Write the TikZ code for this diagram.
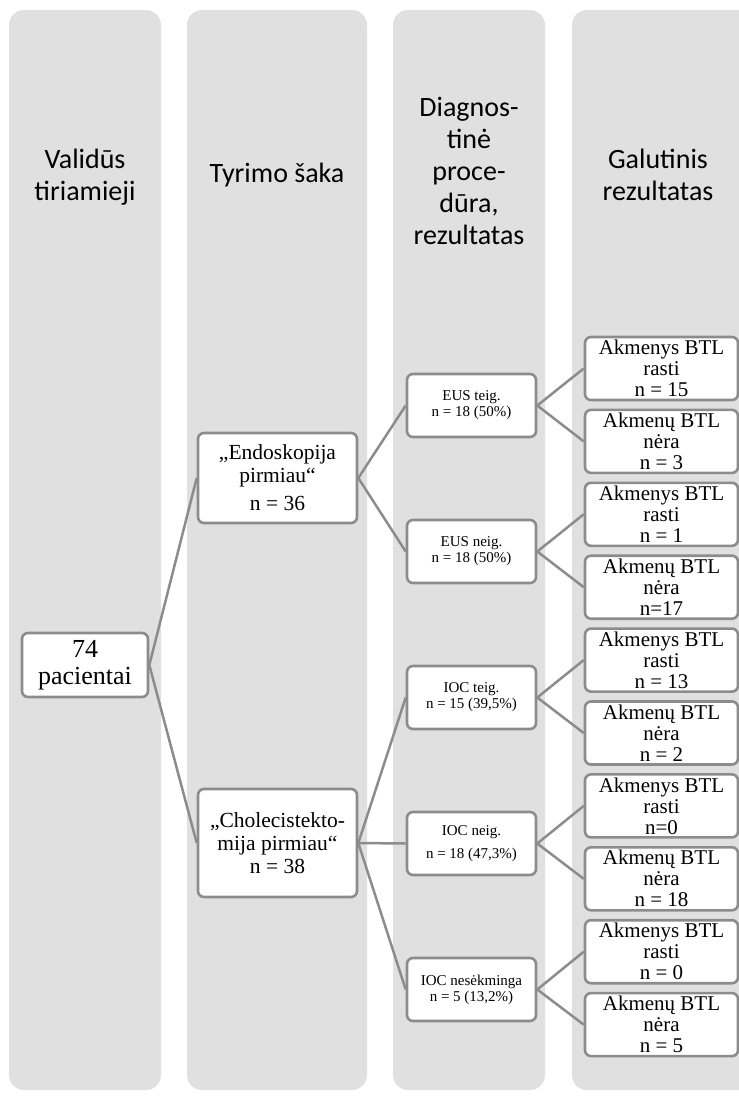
\documentclass[tikz,border=0pt]{standalone}
\usepackage{fontspec}
\setmainfont{Liberation Serif}
\newfontfamily\headfont{Carlito}
\definecolor{colbg}{RGB}{224,224,224}
\definecolor{edgegray}{RGB}{140,140,140}
\tikzset{
  column/.style={fill=colbg, rounded corners=15pt},
  head/.style={font=\headfont\fontsize{28}{32}\selectfont, align=center, text=black, inner sep=0pt},
  box/.style={draw=edgegray, line width=2.6pt, fill=white, rounded corners=6pt,
              align=center, inner sep=0pt},
  rootbox/.style={box, minimum width=126pt, minimum height=64pt,
                  font=\fontsize{26}{27}\selectfont},
  armbox/.style={box, minimum width=159pt, font=\fontsize{21.5}{23}\selectfont},
  procbox/.style={box, minimum width=129pt, minimum height=63pt,
                  font=\fontsize{15}{16}\selectfont},
  leafbox/.style={box, minimum width=153pt, minimum height=63pt,
                  font=\fontsize{21}{21}\selectfont},
  link/.style={draw=edgegray, line width=2.5pt},
}
\begin{document}
\begin{tikzpicture}[x=1pt,y=-1pt]
\useasboundingbox (0,0) rectangle (739,1096);

% background columns
\begin{scope}
  \clip (0,0) rectangle (739,1096);
  \fill[column] (9,10) rectangle (161,1090);
  \fill[column] (187,10) rectangle (367,1090);
  \fill[column] (393,10) rectangle (545,1090);
  \fill[column] (572,10) rectangle (760,1090);
\end{scope}

% column headings
\node[head] (h1) at (85,177) {Validūs\\tiriamieji};
\node[head] (h2) at (277,175) {Tyrimo šaka};
\node[head] (h3) at (469,171) {Diagnos-\\tinė\\proce-\\dūra,\\rezultatas};
\node[head] (h4) at (658,175) {Galutinis\\rezultatas};

% patients
\node[rootbox] (root) at (85,665) {74\\pacientai};

% study arms
\node[armbox, minimum height=90pt] (endo) at (277.5,478)
  {„Endoskopija\\pirmiau“\\[5pt]n = 36};
\node[armbox, minimum height=108pt] (chol) at (277.5,843)
  {„Cholecistekto-\\mija pirmiau“\\n = 38};

% diagnostic procedures
\node[procbox] (eusp) at (471.5,405.5) {EUS teig.\\n = 18 (50\%)};
\node[procbox] (eusn) at (471.5,551.5) {EUS neig.\\n = 18 (50\%)};
\node[procbox] (iocp) at (471.5,697.5) {IOC teig.\\n = 15 (39,5\%)};
\node[procbox] (iocn) at (471.5,843.5) {IOC neig.\\[7pt]n = 18 (47,3\%)};
\node[procbox] (iocf) at (471.5,989.5) {IOC nesėkminga\\n = 5 (13,2\%)};

% final results
\node[leafbox] (l1)  at (661.5,368.5)  {Akmenys BTL\\rasti\\n = 15};
\node[leafbox] (l2)  at (661.5,441.4)  {Akmenų BTL\\nėra\\n = 3};
\node[leafbox] (l3)  at (661.5,514.3)  {Akmenys BTL\\rasti\\n = 1};
\node[leafbox] (l4)  at (661.5,587.2)  {Akmenų BTL\\nėra\\n=17};
\node[leafbox] (l5)  at (661.5,660.1)  {Akmenys BTL\\rasti\\n = 13};
\node[leafbox] (l6)  at (661.5,733.0)  {Akmenų BTL\\nėra\\n = 2};
\node[leafbox] (l7)  at (661.5,805.9)  {Akmenys BTL\\rasti\\n=0};
\node[leafbox] (l8)  at (661.5,878.8)  {Akmenų BTL\\nėra\\n = 18};
\node[leafbox] (l9)  at (661.5,951.7)  {Akmenys BTL\\rasti\\n = 0};
\node[leafbox] (l10) at (661.5,1024.6) {Akmenų BTL\\nėra\\n = 5};

% links between the levels
\path[link] (root.east) -- (endo.west);
\path[link] (root.east) -- (chol.west);
\path[link] (endo.east) -- (eusp.west);
\path[link] (endo.east) -- (eusn.west);
\path[link] (chol.east) -- (iocp.west);
\path[link] (chol.east) -- (iocn.west);
\path[link] (chol.east) -- (iocf.west);
\path[link] (eusp.east) -- (l1.west);
\path[link] (eusp.east) -- (l2.west);
\path[link] (eusn.east) -- (l3.west);
\path[link] (eusn.east) -- (l4.west);
\path[link] (iocp.east) -- (l5.west);
\path[link] (iocp.east) -- (l6.west);
\path[link] (iocn.east) -- (l7.west);
\path[link] (iocn.east) -- (l8.west);
\path[link] (iocf.east) -- (l9.west);
\path[link] (iocf.east) -- (l10.west);
\end{tikzpicture}
\end{document}
